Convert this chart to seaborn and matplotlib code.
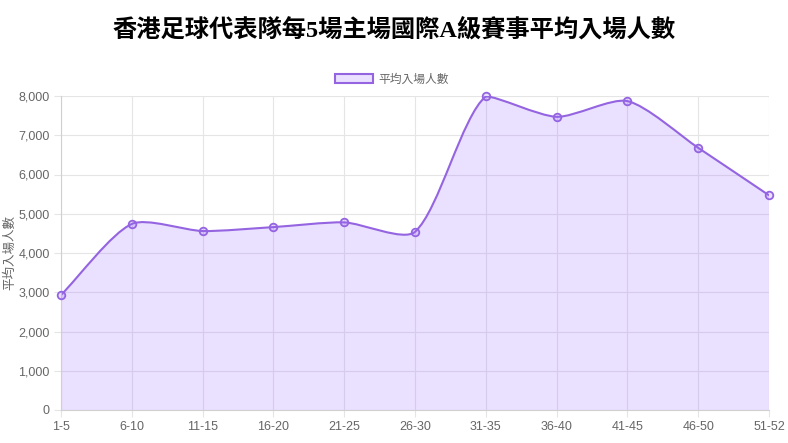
import numpy as np
import pandas as pd
import matplotlib
matplotlib.use("Agg")
import matplotlib.pyplot as plt
from matplotlib.path import Path
from matplotlib.patches import PathPatch
from matplotlib.ticker import FuncFormatter
import seaborn as sns

# data
ranges = ["1-5", "6-10", "11-15", "16-20", "21-25", "26-30",
          "31-35", "36-40", "41-45", "46-50", "51-52"]
attendance = [2930, 4740, 4560, 4660, 4780, 4540, 7990, 7470, 7870, 6680, 5470]
series_name = "平均入場人數"
title = "香港足球代表隊每5場主場國際A級賽事平均入場人數"

line_col = (148 / 255, 100 / 255, 225 / 255)
fill_col = (153 / 255, 102 / 255, 255 / 255, 0.2)
grey = "#666666"
grid_col = "#e5e5e5"

sns.set_theme(style="white")
plt.rcParams["font.family"] = ["Liberation Sans", "Noto Sans CJK TC", "DejaVu Sans"]

df = pd.DataFrame({"range": ranges, "pos": np.arange(len(ranges)), "value": attendance})

fig = plt.figure(figsize=(7.88, 4.43), dpi=100)
ax = fig.add_axes([61 / 788, 33 / 443, 708 / 788, 314 / 443])
ax.set_xlim(0, len(ranges) - 1)
ax.set_ylim(0, 8000)


# smooth curve like chart.js, control points computed in pixel space and capped to the plot area
def bezier_path(xs, ys, t=0.25):
    pts = ax.transData.transform(np.column_stack([xs, ys]))
    lo = ax.transData.transform((0, 0))[1]
    hi = ax.transData.transform((0, 8000))[1]
    n = len(pts)
    cps = []
    for i in range(n):
        prev = pts[max(i - 1, 0)]
        cur = pts[i]
        nxt = pts[min(i + 1, n - 1)]
        d01 = np.hypot(*(cur - prev))
        d12 = np.hypot(*(nxt - cur))
        tot = d01 + d12
        s01 = d01 / tot if tot else 0
        s12 = d12 / tot if tot else 0
        a = cur - t * s01 * (nxt - prev)
        b = cur + t * s12 * (nxt - prev)
        a[1] = np.clip(a[1], lo, hi)
        b[1] = np.clip(b[1], lo, hi)
        cps.append((a, b))
    verts = [pts[0]]
    codes = [Path.MOVETO]
    for i in range(n - 1):
        verts += [cps[i][1], cps[i + 1][0], pts[i + 1]]
        codes += [Path.CURVE4] * 3
    inv = ax.transData.inverted()
    return inv.transform(np.array(verts)), codes


verts, codes = bezier_path(df["pos"].values, df["value"].values)

fill_verts = np.vstack([verts, [[df["pos"].iloc[-1], 0], [df["pos"].iloc[0], 0], verts[0]]])
fill_codes = codes + [Path.LINETO, Path.LINETO, Path.CLOSEPOLY]
ax.add_patch(PathPatch(Path(fill_verts, fill_codes), facecolor=fill_col, edgecolor="none", zorder=1))
ax.add_patch(PathPatch(Path(verts, codes), facecolor="none", edgecolor=line_col, lw=1.5, zorder=2))

sns.scatterplot(data=df, x="pos", y="value", ax=ax, s=30, color=fill_col,
                edgecolor=line_col, linewidth=1.3, zorder=3, legend=False, clip_on=False)

# grid and axes
ax.set_xticks(df["pos"])
ax.set_xticklabels(ranges)
ax.set_yticks(range(0, 8001, 1000))
ax.yaxis.set_major_formatter(FuncFormatter(lambda v, p: f"{int(v):,}"))
ax.grid(True, color=grid_col, lw=0.8)
ax.set_axisbelow(True)
for sp in ["top", "right"]:
    ax.spines[sp].set_visible(False)
for sp in ["left", "bottom"]:
    ax.spines[sp].set_color("#d0d0d0")
    ax.spines[sp].set_linewidth(0.8)
ax.tick_params(axis="both", length=5, width=0.8, color=grid_col, labelcolor=grey,
               labelsize=9, pad=3, left=True, bottom=True)
ax.set_xlabel("")
ax.set_ylabel(series_name, color=grey, fontsize=9, labelpad=4,
              family=["Noto Sans CJK TC", "DejaVu Sans"])
ax.yaxis.set_label_coords(-0.063, 0.5)

# legend
handle = plt.Rectangle((0, 0), 1, 1, facecolor=fill_col, edgecolor=line_col, lw=1.5)
leg = fig.legend([handle], [series_name], loc="center", bbox_to_anchor=(392 / 788, 1 - 79 / 443),
                 frameon=False, handlelength=3.2, handleheight=0.8, handletextpad=0.5,
                 prop={"family": ["Noto Sans CJK TC", "DejaVu Sans"], "size": 8.5})
for txt in leg.get_texts():
    txt.set_color(grey)

fig.text(0.5, 1 - 30 / 443, title, ha="center", va="center", fontsize=17.5, fontweight="bold",
         family=["Liberation Serif", "Noto Sans CJK TC", "DejaVu Sans"], color="#000000")

fig.savefig("out.png", dpi=100)
